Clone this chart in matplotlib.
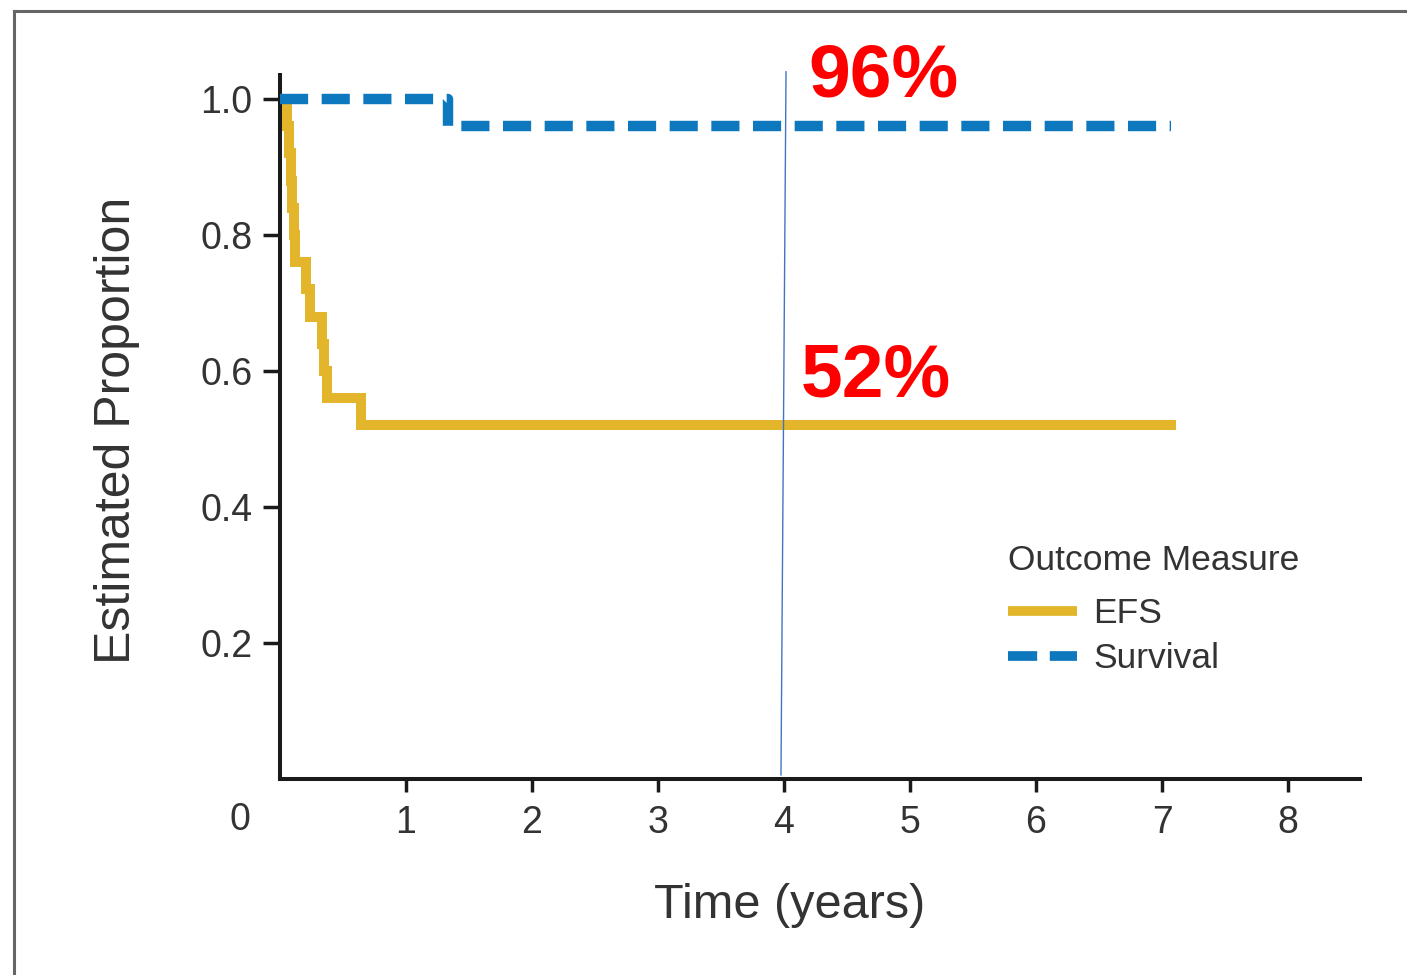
import matplotlib
matplotlib.use("Agg")
import matplotlib.pyplot as plt
from matplotlib.lines import Line2D
from matplotlib import font_manager

plt.rcParams['font.family'] = ['Liberation Sans', 'DejaVu Sans']
names = sorted({f.name for f in font_manager.fontManager.ttflist})
narrow = 'Liberation Sans Narrow' if 'Liberation Sans Narrow' in names else None

# ---- data ----
efs_times = [0.0, 0.055, 0.075, 0.085, 0.095, 0.11, 0.12, 0.21, 0.24, 0.33, 0.35, 0.37, 0.64, 7.11]
efs_values = [1.0, 0.96, 0.92, 0.88, 0.84, 0.80, 0.76, 0.72, 0.68, 0.64, 0.60, 0.56, 0.52, 0.52]
surv_times = [0.0, 1.33, 7.07]
surv_values = [1.0, 0.96, 0.96]
x_ticks = [1, 2, 3, 4, 5, 6, 7, 8]
y_ticks = [0.2, 0.4, 0.6, 0.8, 1.0]
y_tick_labels = ["0.2", "0.4", "0.6", "0.8", "1.0"]
marker_year = 4
annot_labels = ["96%", "52%"]

gold = '#E2B52A'
blue = '#0E78BE'
txt = '#333333'

fig = plt.figure(figsize=(14.07, 9.75), dpi=100)
ax = fig.add_axes([280/1407, 1-779/975, (1360-280)/1407, (779-75)/975])
ax.set_xlim(0, (1360-280)/126)
ax.set_ylim(0, (779-75)/680)

ax.step(efs_times, efs_values, where='post', color=gold, lw=7.2,
        solid_joinstyle='miter', solid_capstyle='butt', zorder=3)
ax.step(surv_times, surv_values, where='post', color=blue, lw=7.5,
        dashes=(2.7, 1.3), dash_capstyle='butt', zorder=4)

# vertical marker line
ax.plot([marker_year + 0.016, marker_year - 0.024], [1.04, 0.006], color='#4472C4', lw=1.0,
        clip_on=False, zorder=5)

# annotations
ax.text(4.19, 1.003, annot_labels[0], color='#FF0000', fontsize=54,
        fontweight='bold', ha='left', va='baseline', zorder=6)
ax.text(4.13, 0.5618, annot_labels[1], color='#FF0000', fontsize=54,
        fontweight='bold', ha='left', va='baseline', zorder=6)

# spines
for s in ['top', 'right']:
    ax.spines[s].set_visible(False)
for s in ['left', 'bottom']:
    ax.spines[s].set_linewidth(2.9)
    ax.spines[s].set_color('#1a1a1a')
    ax.spines[s].set_capstyle('projecting')

ax.set_xticks(x_ticks)
ax.set_xticklabels([str(v) for v in x_ticks])
ax.set_yticks(y_ticks)
ax.set_yticklabels(y_tick_labels)
ax.tick_params(axis='both', direction='out', width=2.5, color='#1a1a1a',
               labelsize=27, labelcolor=txt)
ax.tick_params(axis='y', length=12, pad=8)
ax.tick_params(axis='x', length=9, pad=10)

ax.text(-0.317, -0.06, "0", fontsize=27, color=txt, ha='center', va='center',
        clip_on=False)

lab_family = [narrow, 'Liberation Sans', 'DejaVu Sans'] if narrow else ['Liberation Sans', 'DejaVu Sans']
xl_size = 42 if narrow else 35
ax.set_xlabel("Time (years)", fontsize=xl_size, color=txt, family=lab_family)
ax.xaxis.set_label_coords((790-280)/1080, -(905-779)/704)
ax.xaxis.label.set_va('center')
ax.set_ylabel("Estimated Proportion", fontsize=36, color=txt)
ax.yaxis.set_label_coords(-(280-117)/1080, (779-430)/704)
ax.yaxis.label.set_va('center')

handles = [Line2D([], [], color=gold, lw=7, solid_capstyle='butt'),
           Line2D([], [], color=blue, lw=7, dashes=(3.0, 1.3), dash_capstyle='butt')]
leg = ax.legend(handles, ["EFS", "Survival"],
                loc='upper left', bbox_to_anchor=((1008-280)/1080, 1-(597-75)/704),
                frameon=False, fontsize=25.5,
                handlelength=1.95, handletextpad=0.45, labelspacing=0.34,
                borderaxespad=0, borderpad=0)
for t in leg.get_texts():
    t.set_color(txt)
ax.text((1008-280)/1080, (779-560)/704, "Outcome Measure", transform=ax.transAxes,
        fontsize=25.5, color=txt, ha='left', va='center')

# outer frame (top and left visible)
fig.add_artist(Line2D([14/1407, 1.0], [1-11/975, 1-11/975], color='#666666', lw=2.2,
                      transform=fig.transFigure))
fig.add_artist(Line2D([14/1407, 14/1407], [0.0, 1-11/975], color='#666666', lw=2.2,
                      transform=fig.transFigure))

fig.savefig("out.png", dpi=100)
